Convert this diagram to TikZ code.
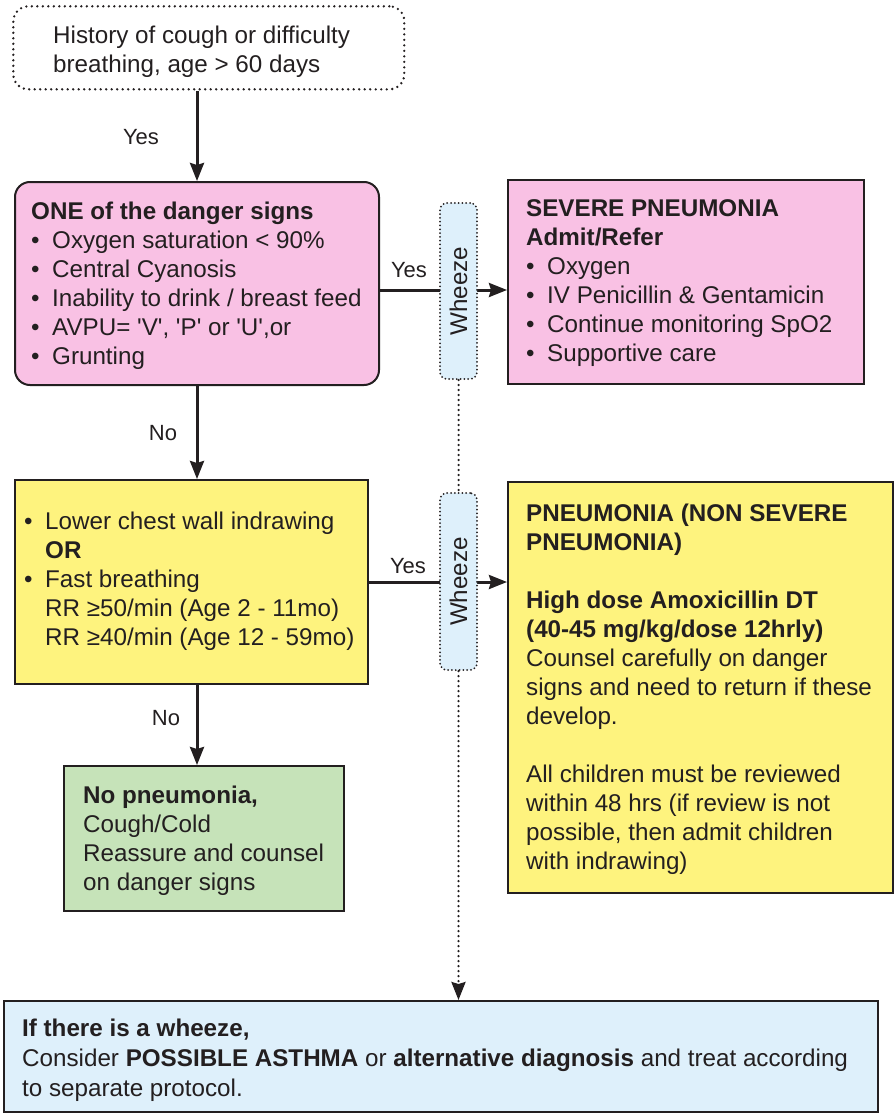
\documentclass[tikz,border=0pt]{standalone}
\usepackage{fontspec}
\setmainfont{Liberation Sans}
\usetikzlibrary{arrows.meta}
\definecolor{txt}{RGB}{35,31,32}
\definecolor{pinkf}{RGB}{249,193,228}
\definecolor{yelf}{RGB}{254,243,126}
\definecolor{grnf}{RGB}{198,227,185}
\definecolor{bluf}{RGB}{222,240,251}
\newcommand\firstln{\rule{0pt}{18pt}}
\newcommand\bul{\makebox[21pt][l]{•}}
\newcommand\ind{\hspace*{21pt}}
\newcommand\sq{\textquotesingle}
\begin{document}
\begin{tikzpicture}[x=1pt,y=-1pt,
  box/.style={draw=txt, line width=2pt, inner sep=0pt, anchor=north west},
  dotbox/.style={draw=txt, line width=2.6pt, dash pattern=on 0pt off 5.5pt, line cap=round, inner sep=0pt},
  wzbox/.style={draw=txt, fill=bluf, line width=2pt, dash pattern=on 0pt off 3.8pt, line cap=round, rounded corners=7pt, inner sep=0pt, minimum width=37pt},
  tx/.style={anchor=north west, inner sep=0pt, align=left, text=txt, font=\fontsize{24.2}{29}\selectfont},
  lbl/.style={inner sep=0pt, text=txt, font=\fontsize{22}{26}\selectfont},
  arr/.style={draw=txt, line width=3pt, -{Stealth[length=18pt,width=14pt,inset=2pt]}},
  dotarr/.style={draw=txt, line width=2.5pt, dash pattern=on 0pt off 5pt, line cap=round, -{Stealth[length=18pt,width=14pt,inset=2pt,line cap=butt,sep=0pt]}},
  dotln/.style={draw=txt, line width=2.5pt, dash pattern=on 0pt off 5pt, line cap=round}
]
\useasboundingbox (0,0) rectangle (895,1116);

% boxes
\node[dotbox, anchor=north west, rounded corners=15pt, minimum width=391pt, minimum height=83pt] (start) at (12,5) {};
\node[box, fill=pinkf, rounded corners=15pt, minimum width=364pt, minimum height=203pt] (danger) at (14,181) {};
\node[box, fill=pinkf, minimum width=356pt, minimum height=204pt] (severe) at (507,179) {};
\node[box, fill=yelf, minimum width=353pt, minimum height=204pt] (cond) at (14,479) {};
\node[box, fill=yelf, minimum width=385pt, minimum height=411pt] (pneu) at (507,481) {};
\node[box, fill=grnf, minimum width=280pt, minimum height=145pt] (green) at (63,765) {};
\node[box, fill=bluf, minimum width=874pt, minimum height=111pt] (wheeze) at (3,1000) {};

% connectors
\coordinate (y1) at (0,290);
\draw[arr] (danger.north |- start.south) -- (danger.north);
\draw[arr] (danger.south) -- (danger.south |- cond.north);
\draw[arr] (cond.south -| danger.south) -- (green.north -| danger.south);
\draw[arr] (danger.east |- y1) -- (severe.west |- y1);
\draw[arr] (cond.east) -- (cond.east -| pneu.west);

% wheeze boxes
\node[wzbox, minimum height=176pt] (wz1) at (458.5,291) {};
\node[wzbox, minimum height=177pt] (wz2) at (458.5,581.5) {};
\draw[dotln] (wz1.south) -- (wz2.north);
\draw[dotarr] (wz2.south) -- (wz2.south |- wheeze.north);
\node[lbl, rotate=90, font=\fontsize{24.2}{29}\selectfont] (wz1t) at (wz1.center) {Wheeze};
\node[lbl, rotate=90, font=\fontsize{24.2}{29}\selectfont] (wz2t) at (wz2.center) {Wheeze};

% labels
\node[lbl] (l1) at (141,137) {Yes};
\node[lbl] (l2) at (163,433) {No};
\node[lbl] (l3) at (409,270) {Yes};
\node[lbl] (l4) at (408,566) {Yes};
\node[lbl] (l5) at (166,718) {No};

% texts
\node[tx] (startt) at (53,25) {\firstln History of cough or difficulty\\breathing, age > 60 days};
\node[tx] (dangert) at (31,201.5) {\firstln\textbf{ONE of the danger signs}\\
\bul Oxygen saturation < 90\%\\
\bul Central Cyanosis\\
\bul Inability to drink / breast feed\\
\bul AVPU= \sq V\sq, \sq P\sq{} or \sq U\sq,or\\
\bul Grunting};
\node[tx] (severet) at (526,198.5) {\firstln\textbf{SEVERE PNEUMONIA}\\
\textbf{Admit/Refer}\\
\bul Oxygen\\
\bul IV Penicillin \& Gentamicin\\
\bul Continue monitoring SpO2\\
\bul Supportive care};
\node[tx] (condt) at (24,511) {\firstln\bul Lower chest wall indrawing\\
\ind\textbf{OR}\\
\bul Fast breathing\\
\ind RR ≥50/min (Age 2 - 11mo)\\
\ind RR ≥40/min (Age 12 - 59mo)};
\node[tx] (pneut) at (526,503) {\firstln\textbf{PNEUMONIA (NON SEVERE}\\
\textbf{PNEUMONIA)}\\[29pt]
\textbf{High dose Amoxicillin DT}\\
\textbf{(40-45 mg/kg/dose 12hrly)}\\
Counsel carefully on danger\\
signs and need to return if these\\
develop.\\[29pt]
All children must be reviewed\\
within 48 hrs (if review is not\\
possible, then admit children\\
with indrawing)};
\node[tx] (greent) at (83,785) {\firstln\textbf{No pneumonia,}\\
Cough/Cold\\
Reassure and counsel\\
on danger signs};
\node[tx, font=\fontsize{24.2}{30}\selectfont] (wheezet) at (22,1018) {\firstln\textbf{If there is a wheeze,}\\
Consider \textbf{POSSIBLE ASTHMA} or \textbf{alternative diagnosis} and treat according\\
to separate protocol.};
\end{tikzpicture}
\end{document}
